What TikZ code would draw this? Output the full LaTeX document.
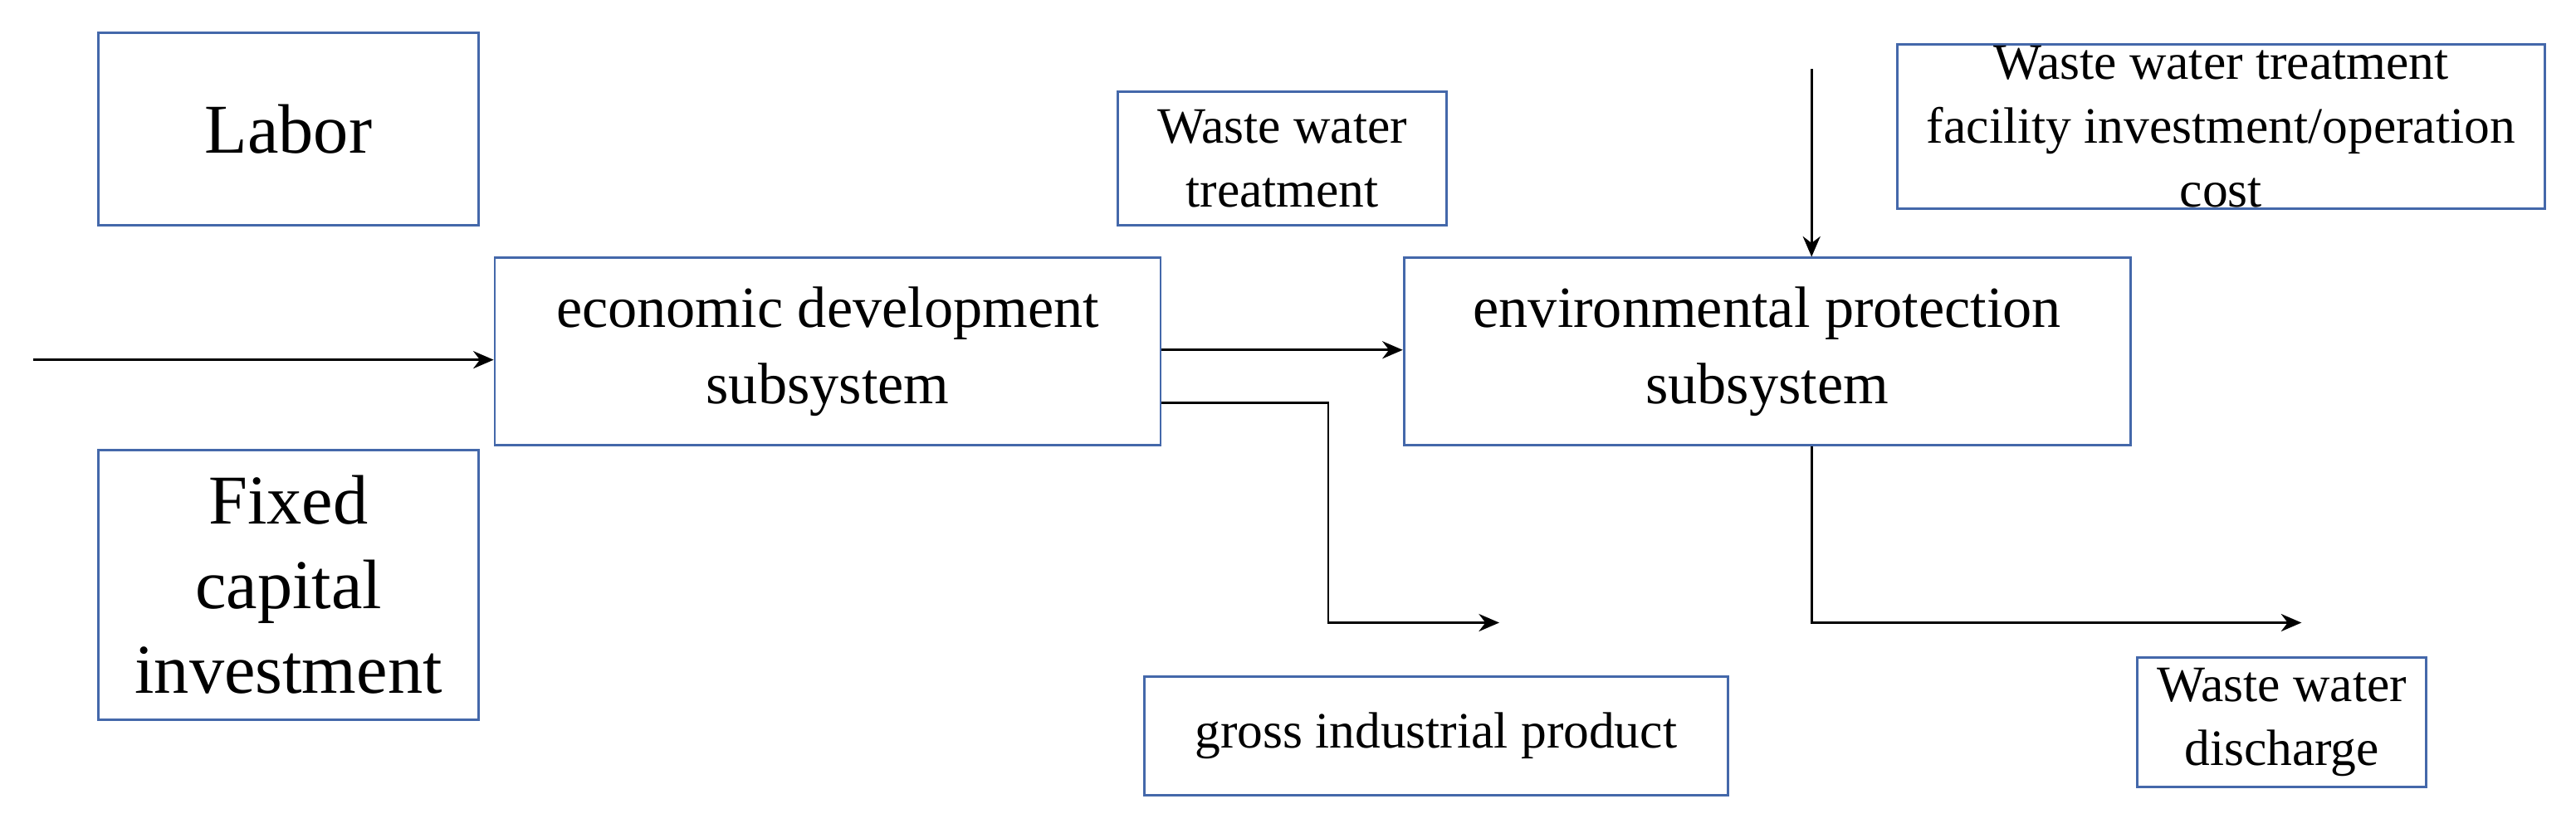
\documentclass[tikz,border=0pt]{standalone}
\usepackage{fontspec}
\setmainfont{Liberation Serif}
\usetikzlibrary{arrows.meta}
\definecolor{bx}{RGB}{68,104,170}
\begin{document}
\begin{tikzpicture}[x=0.0198cm,y=-0.0198cm,
  box/.style={draw=bx,line width=0.8pt,inner sep=0pt,align=center,text=black},
  arr/.style={-{Stealth[length=7pt,width=6pt]},line width=0.8pt}]
\useasboundingbox (0,0) rectangle (1567,507);
\node[box,minimum width=231*0.0198cm,minimum height=117*0.0198cm,font=\fontsize{24}{28}\selectfont] (labor) at (175.5,78.5) {Labor};
\node[box,minimum width=231*0.0198cm,minimum height=164*0.0198cm,font=\fontsize{24}{29}\selectfont] (fixed) at (175.5,356) {Fixed\\capital\\investment};
\node[box,minimum width=405*0.0198cm,minimum height=114*0.0198cm,font=\fontsize{20}{26}\selectfont] (econ) at (503.5,214) {economic development\\subsystem};
\node[box,minimum width=200*0.0198cm,minimum height=81*0.0198cm,font=\fontsize{17.5}{22}\selectfont] (wwt) at (780,96.5) {Waste water\\treatment};
\node[box,minimum width=442*0.0198cm,minimum height=114*0.0198cm,font=\fontsize{20}{26}\selectfont] (env) at (1075,214) {environmental protection\\subsystem};
\node[box,minimum width=394*0.0198cm,minimum height=100*0.0198cm,font=\fontsize{17.5}{22}\selectfont] (fac) at (1351,77) {Waste water treatment\\facility investment/operation\\cost};
\node[box,minimum width=355*0.0198cm,minimum height=72*0.0198cm,font=\fontsize{17.5}{22}\selectfont] (gip) at (873.5,448) {gross industrial product};
\node[box,minimum width=176*0.0198cm,minimum height=79*0.0198cm,font=\fontsize{17.5}{22}\selectfont] (dis) at (1388,439.5) {Waste water\\discharge};
\coordinate (in) at (20,219);
\coordinate (top) at (1102,42);
\coordinate (g) at (912,379);
\coordinate (d) at (1400,379);
\draw[arr] (in) -- (econ.west |- in);
\draw[arr] (econ.east |- 0,213) -- (env.west |- 0,213);
\draw[arr] (econ.east |- 0,245) -- (808,245) -- (808,379) -- (g);
\draw[arr] (env.south -| 1102,0) -- (1102,379) -- (d);
\draw[arr] (top) -- (env.north -| top);
\end{tikzpicture}
\end{document}
